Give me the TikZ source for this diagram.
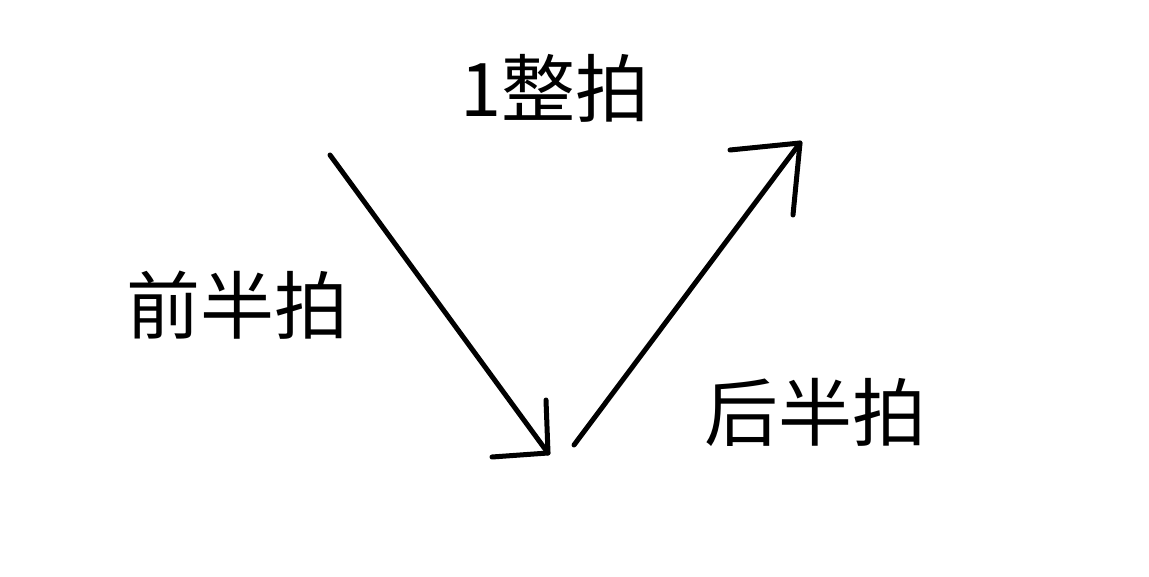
\documentclass[tikz,border=0pt]{standalone}
\usepackage{fontspec}
\newfontfamily\cjk{Noto Sans CJK SC}
\begin{document}
\begin{tikzpicture}[x=1pt,y=-1pt,
  stroke/.style={line width=5pt,line cap=round,line join=round},
  lbl/.style={font=\cjk\fontsize{74}{80}\selectfont,inner sep=0pt}]
\useasboundingbox[fill=white] (0,0) rectangle (1149,577);
\coordinate (a1) at (330,155);
\coordinate (a2) at (548,453);
\coordinate (h1) at (546,400);
\coordinate (h2) at (492,457);
\coordinate (b1) at (574,445);
\coordinate (b2) at (800,143);
\coordinate (g1) at (730,150);
\coordinate (g2) at (793,215);
\draw[stroke] (a1) -- (a2);
\draw[stroke] (h1) -- (a2) -- (h2);
\draw[stroke] (b1) -- (b2);
\draw[stroke] (g1) -- (b2) -- (g2);
\node[lbl] (t1) at (555,88) {1整拍};
\node[lbl] (t2) at (237,305) {前半拍};
\node[lbl] (t3) at (815,412) {后半拍};
\end{tikzpicture}
\end{document}
